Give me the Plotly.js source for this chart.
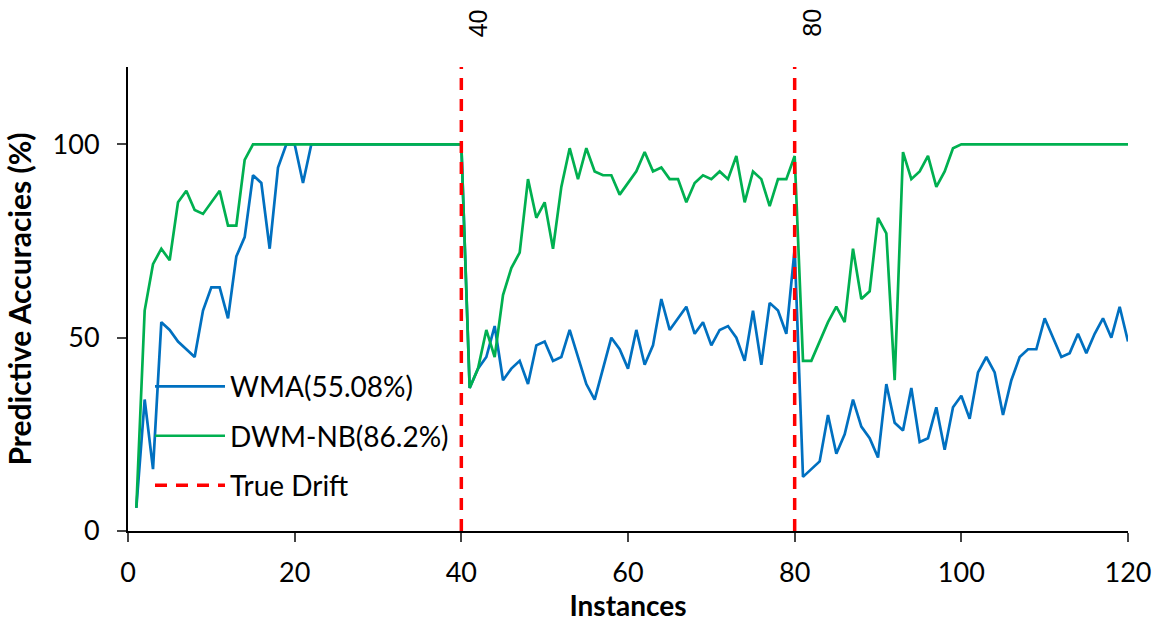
<!DOCTYPE html>
<html><head><meta charset="utf-8">
<script src="https://cdn.plot.ly/plotly-3.0.1.min.js"></script>
<style>html,body{margin:0;padding:0;background:#fff}#chart{width:1165px;height:625px}</style>
</head><body><div id="chart"></div>
<script>
var instances = [];
for (var i = 1; i <= 120; i++) instances.push(i);

var wma = [6,34,16,54,52,49,47,45,57,63,63,55,71,76,92,90,73,94,100,100,90,100,100,100,100,100,100,100,100,100,100,100,100,100,100,100,100,100,100,100,
37,42,45,53,39,42,44,38,48,49,44,45,52,45,38,34,42,50,47,42,52,43,48,60,52,55,58,51,54,48,52,53,50,44,57,43,59,57,51,73,
14,16,18,30,20,25,34,27,24,19,38,28,26,37,23,24,32,21,32,35,29,41,45,41,30,39,45,47,47,55,50,45,46,51,46,51,55,50,58,49];

var dwm = [6,57,69,73,70,85,88,83,82,85,88,79,79,96,100,100,100,100,100,100,100,100,100,100,100,100,100,100,100,100,100,100,100,100,100,100,100,100,100,100,
37,42,52,45,61,68,72,91,81,85,73,89,99,91,99,93,92,92,87,90,93,98,93,94,91,91,85,90,92,91,93,91,97,85,93,91,84,91,91,97,
44,44,49,54,58,54,73,60,62,81,77,39,98,91,93,97,89,93,99,100,100,100,100,100,100,100,100,100,100,100,100,100,100,100,100,100,100,100,100,100];

var driftPoints = [40, 80];
var yMax = 120;

var driftX = [], driftY = [];
driftPoints.forEach(function(d){ driftX.push(d, d, null); driftY.push(0, yMax, null); });

var fontFam = 'Lato, "Open Sans", sans-serif';

var data = [
  {x: instances, y: wma, type: 'scatter', mode: 'lines', name: 'WMA(55.08%)', legendgroup: 'a',
   line: {color: '#0070C0', width: 2.7}},
  {x: instances, y: dwm, type: 'scatter', mode: 'lines', name: 'DWM-NB(86.2%)', legendgroup: 'b',
   line: {color: '#00B050', width: 2.7}},
  {x: driftX, y: driftY, type: 'scatter', mode: 'lines', name: 'True Drift', legendgroup: 'c',
   line: {color: '#FF0000', width: 3.5, dash: '12px,9px'}}
];

var annotations = driftPoints.map(function(d){
  return {x: d, xref: 'x', y: 1, yref: 'paper', yanchor: 'bottom', yshift: 28, xshift: 17,
          text: String(d), showarrow: false, textangle: -90,
          font: {family: '"Liberation Sans", Arial, sans-serif', size: 25, color: '#000'}};
});

var layout = {
  width: 1165, height: 625,
  margin: {l: 128, r: 37, t: 67, b: 94},
  paper_bgcolor: '#fff', plot_bgcolor: '#fff',
  showlegend: true,
  legend: {x: 0.022, y: 0.365, xanchor: 'left', yanchor: 'top', bgcolor: 'rgba(0,0,0,0)',
           font: {family: fontFam, size: 28, color: '#000'}, tracegroupgap: 10, traceorder: 'grouped',
           itemwidth: 70},
  xaxis: {range: [0, 120], tickvals: [0,20,40,60,80,100,120], ticks: 'outside', ticklen: 9, tickwidth: 2,
          ticklabelstandoff: 8,
          showline: true, linecolor: '#000', linewidth: 2, showgrid: false, zeroline: false,
          tickfont: {family: fontFam, size: 27, color: '#000'},
          title: {text: '<b>Instances</b>', font: {family: fontFam, size: 28, color: '#000'}, standoff: 6}},
  yaxis: {range: [0, 120], tickvals: [0,50,100], ticks: 'outside', ticklen: 9, tickwidth: 2,
          ticklabelstandoff: 12,
          showline: true, linecolor: '#000', linewidth: 2, showgrid: false, zeroline: false,
          tickfont: {family: fontFam, size: 27, color: '#000'},
          title: {text: '<b>Predictive Accuracies (%)</b>', font: {family: fontFam, size: 30, color: '#000'}, standoff: 12}},
  annotations: annotations
};

Plotly.newPlot('chart', data, layout, {displayModeBar: false, staticPlot: true});
</script></body></html>
